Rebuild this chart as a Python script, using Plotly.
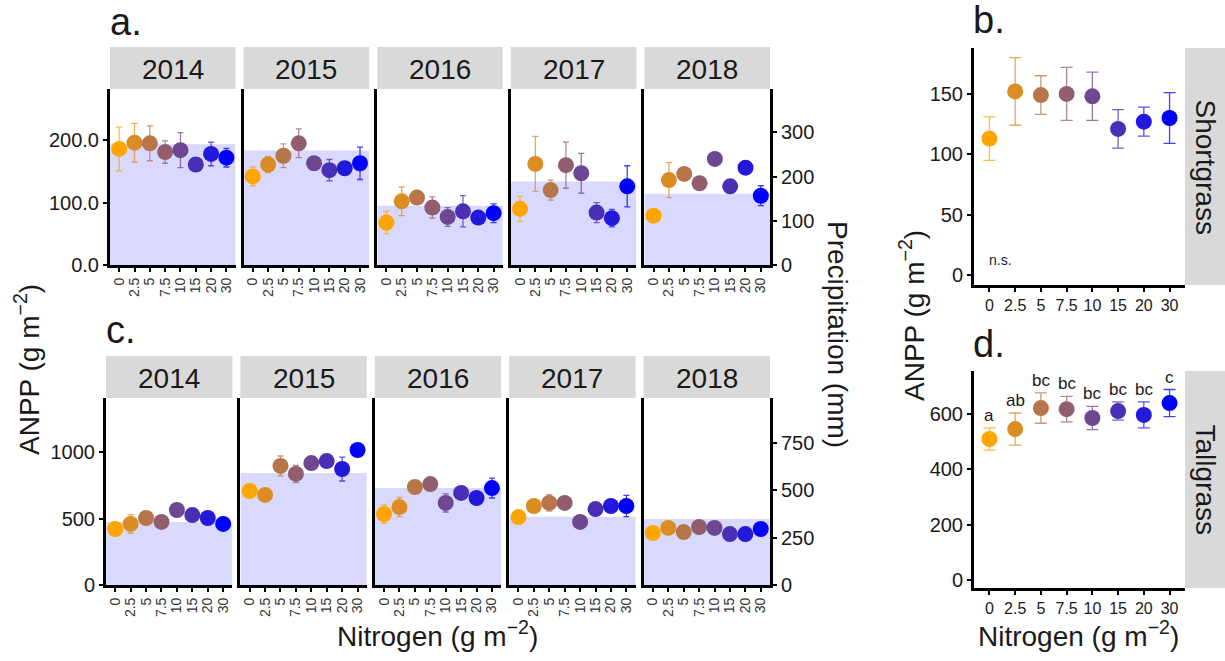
import plotly.graph_objects as go

W, H = 1225, 661

# ---------------- data ----------------
N_LABELS = ["0", "2.5", "5", "7.5", "10", "15", "20", "30"]
YEARS = ["2014", "2015", "2016", "2017", "2018"]
COLORS = ["#FFA500", "#DB8D24", "#B67649", "#925E6D", "#6D4792", "#492FB6", "#2418DB", "#0000FF"]

# Shortgrass (panel a) ANPP by year: mean and SE
sg_2014_mean = [186, 196, 195, 181, 184, 161, 178, 172]
sg_2014_se = [35, 31, 28, 18, 28, 11, 19, 15]
sg_2015_mean = [142, 161, 175, 195, 163, 152, 155, 163]
sg_2015_se = [15, 13, 19, 23, 6, 17, 8, 26]
sg_2016_mean = [68, 102, 108, 92, 77, 86, 76, 83]
sg_2016_se = [18, 23, 6, 17, 15, 25, 6, 15]
sg_2017_mean = [90, 162, 120, 160, 147, 84, 75, 126]
sg_2017_se = [20, 44, 16, 37, 32, 16, 14, 33]
sg_2018_mean = [79, 136, 146, 131, 170, 126, 156, 111]
sg_2018_se = [4, 28, 5, 5, 8, 5, 5, 16]
sg_precip = [273, 259, 134, 189, 161]

# Tallgrass (panel c) ANPP by year: mean and SE
tg_2014_mean = [421, 459, 504, 474, 564, 526, 504, 459]
tg_2014_se = [15, 70, 15, 15, 15, 15, 15, 15]
tg_2015_mean = [707, 677, 895, 835, 917, 932, 872, 1015]
tg_2015_se = [20, 20, 75, 65, 30, 30, 90, 20]
tg_2016_mean = [534, 586, 737, 759, 617, 692, 654, 729]
tg_2016_se = [68, 72, 30, 30, 68, 30, 30, 75]
tg_2017_mean = [511, 594, 617, 617, 474, 571, 594, 594]
tg_2017_se = [30, 30, 62, 30, 30, 30, 30, 80]
tg_2018_mean = [391, 429, 398, 436, 429, 383, 383, 421]
tg_2018_se = [30, 30, 30, 30, 30, 30, 30, 30]
tg_precip = [333, 592, 513, 360, 349]

# Panel b (Shortgrass overall) and d (Tallgrass overall)
sg_all_mean = [113, 152, 149, 150, 148, 121, 127, 130]
sg_all_se = [18, 28, 16, 22, 20, 16, 12, 21]
tg_all_mean = [510, 546, 622, 618, 586, 611, 597, 640]
tg_all_se = [40, 58, 55, 46, 42, 33, 47, 49]
tg_letters = ["a", "ab", "bc", "bc", "bc", "bc", "bc", "c"]

sg_means = [sg_2014_mean, sg_2015_mean, sg_2016_mean, sg_2017_mean, sg_2018_mean]
sg_ses = [sg_2014_se, sg_2015_se, sg_2016_se, sg_2017_se, sg_2018_se]
tg_means = [tg_2014_mean, tg_2015_mean, tg_2016_mean, tg_2017_mean, tg_2018_mean]
tg_ses = [tg_2014_se, tg_2015_se, tg_2016_se, tg_2017_se, tg_2018_se]

# ---------------- helpers ----------------
FONT = "Liberation Sans, Arial, sans-serif"
TXT = "#1a1a1a"
STRIP = "#D9D9D9"
PRECIP_FILL = "#D9D9FF"

layout = {}
traces = []
shapes = []
annotations = []
counter = {"x": 0, "y": 0}


def new(k):
    counter[k] += 1
    return counter[k]


def aname(k, n):
    return f"{k}axis" + ("" if n == 1 else str(n))


def aref(k, n):
    return k + ("" if n == 1 else str(n))


def rgba(hexc, a):
    h = hexc.lstrip("#")
    r, g, b = int(h[0:2], 16), int(h[2:4], 16), int(h[4:6], 16)
    return f"rgba({r},{g},{b},{a})"


def fx(p):
    return p / W


def fy(p):
    return 1 - p / H


def text(x, y, s, size, angle=0, xanchor="center", yanchor="middle", color=TXT):
    annotations.append(dict(x=fx(x), y=fy(y), xref="paper", yref="paper", text=s,
                            showarrow=False, textangle=angle, xanchor=xanchor,
                            yanchor=yanchor, font=dict(size=size, color=color, family=FONT)))


def strip_rect(x0, x1, y0, y1):
    shapes.append(dict(type="rect", xref="paper", yref="paper", x0=fx(x0), x1=fx(x1),
                       y0=fy(y1), y1=fy(y0), fillcolor=STRIP, line=dict(width=0), layer="below"))


def add_points(xr, yr, means, ses, capw):
    for j in range(8):
        traces.append(go.Scatter(
            x=[j], y=[means[j]], mode="markers",
            marker=dict(size=16, color=COLORS[j], line=dict(width=0)),
            error_y=dict(type="data", array=[ses[j]], color=rgba(COLORS[j], 0.75),
                         thickness=1.3, width=capw),
            xaxis=xr, yaxis=yr, showlegend=False, hoverinfo="skip"))


AX_LINE = dict(showline=True, linewidth=3, linecolor="black", showgrid=False, zeroline=False,
               fixedrange=True)


def facet_row(means, ses, precips, x0, w, gap, ytop, ybot, strip_top,
              anpp_range, anpp_vals, anpp_text, pr_range, pr_vals):
    for i in range(5):
        xi = new("x")
        ypi = new("y")
        yai = new("y")
        left = x0 + i * (w + gap)
        right = left + w
        layout[aname("x", xi)] = dict(
            AX_LINE, domain=[fx(left), fx(right)], range=[-0.6, 7.6], anchor=aref("y", ypi),
            tickmode="array", tickvals=list(range(8)), ticktext=N_LABELS, tickangle=-90,
            ticks="outside", ticklen=4, tickwidth=2, tickcolor="black",
            tickfont=dict(size=14, color="#333333", family=FONT))
        base = dict(domain=[fy(ybot), fy(ytop)], range=pr_range, anchor=aref("x", xi),
                    side="right", showgrid=False, zeroline=False, fixedrange=True)
        if i == 4:
            base.update(showline=True, linewidth=3, linecolor="black", ticks="outside",
                        ticklen=4, tickwidth=2, tickcolor="black", tickmode="array",
                        tickvals=pr_vals, tickfont=dict(size=20, color=TXT, family=FONT))
        else:
            base.update(showline=False, showticklabels=False, ticks="")
        layout[aname("y", ypi)] = base
        over = dict(AX_LINE, overlaying=aref("y", ypi), range=anpp_range, anchor=aref("x", xi),
                    side="left")
        if i == 0:
            over.update(ticks="outside", ticklen=4, tickwidth=2, tickcolor="black",
                        tickmode="array", tickvals=anpp_vals, ticktext=anpp_text,
                        tickfont=dict(size=20, color=TXT, family=FONT))
        else:
            over.update(showticklabels=False, ticks="")
        layout[aname("y", yai)] = over
        traces.append(go.Bar(x=[3.5], y=[precips[i]], width=[8.2],
                             marker=dict(color=PRECIP_FILL, line=dict(width=0)),
                             xaxis=aref("x", xi), yaxis=aref("y", ypi),
                             showlegend=False, hoverinfo="skip"))
        add_points(aref("x", xi), aref("y", yai), means[i], ses[i], 3)
        strip_rect(left, right, strip_top, ytop)
        text((left + right) / 2, (strip_top + ytop) / 2 + 1, YEARS[i], 28)


def single_panel(means, ses, xl, xr_, ytop, ybot, yrange, yvals, strip_label):
    xi = new("x")
    yi = new("y")
    layout[aname("x", xi)] = dict(
        AX_LINE, domain=[fx(xl), fx(xr_)], range=[-0.6, 7.6], anchor=aref("y", yi),
        tickmode="array", tickvals=list(range(8)), ticktext=N_LABELS, tickangle=0,
        ticks="outside", ticklen=4, tickwidth=2, tickcolor="black",
        tickfont=dict(size=16, color=TXT, family=FONT))
    layout[aname("y", yi)] = dict(
        AX_LINE, domain=[fy(ybot), fy(ytop)], range=yrange, anchor=aref("x", xi),
        tickmode="array", tickvals=yvals, ticks="outside", ticklen=4, tickwidth=2,
        tickcolor="black", tickfont=dict(size=20, color=TXT, family=FONT))
    add_points(aref("x", xi), aref("y", yi), means, ses, 6)
    strip_rect(xr_, 1225, ytop, ybot)
    text((xr_ + 1225) / 2, (ytop + ybot) / 2, strip_label, 28, angle=90)
    return aref("x", xi), aref("y", yi)


# ---------------- panels ----------------
facet_row(sg_means, sg_ses, sg_precip, 110, 125.6, 8, 89, 265, 47,
          [0, 282], [0, 100, 200], ["0.0", "100.0", "200.0"], [0, 398], [0, 100, 200, 300])
facet_row(tg_means, tg_ses, tg_precip, 106, 126.4, 8, 398, 585, 356,
          [0, 1406], [0, 500, 1000], ["0", "500", "1000"], [0, 988], [0, 250, 500, 750])

bx, by = single_panel(sg_all_mean, sg_all_se, 974, 1185, 48, 285, [-8.3, 188],
                      [0, 50, 100, 150], "Shortgrass")
dx, dy = single_panel(tg_all_mean, tg_all_se, 974, 1185, 371, 588, [-29, 756],
                      [0, 200, 400, 600], "Tallgrass")

annotations.append(dict(x=0.43, y=12, xref=bx, yref=by, text="n.s.", showarrow=False,
                        font=dict(size=14, color=TXT, family=FONT)))
for j in range(8):
    annotations.append(dict(x=j, y=tg_all_mean[j] + tg_all_se[j], xref=dx, yref=dy,
                            text=tg_letters[j], showarrow=False, yanchor="bottom", yshift=1,
                            font=dict(size=17, color=TXT, family=FONT)))

# panel tags and axis titles
text(108, 22, "a.", 38, xanchor="left")
text(104, 330, "c.", 38, xanchor="left")
text(971, 20, "b.", 38, xanchor="left")
text(971, 344, "d.", 38, xanchor="left")

ANPP_T = "ANPP (g m<sup>−2</sup>)"
NIT_T = "Nitrogen (g m<sup>−2</sup>)"
text(27, 370, ANPP_T, 28, angle=-90)
text(912, 316, ANPP_T, 28, angle=-90)
text(838, 334, "Precipitation (mm)", 28, angle=90)
text(437, 634, NIT_T, 28)
text(1078, 634, NIT_T, 28)

fig = go.Figure(data=traces)
fig.update_layout(**layout)
fig.update_layout(
    width=W, height=H, margin=dict(l=0, r=0, t=0, b=0), autosize=False,
    template="none", paper_bgcolor="white", plot_bgcolor="white",
    font=dict(family=FONT, color=TXT), showlegend=False, barmode="overlay",
    shapes=shapes, annotations=annotations)
fig.write_html("out.html")
